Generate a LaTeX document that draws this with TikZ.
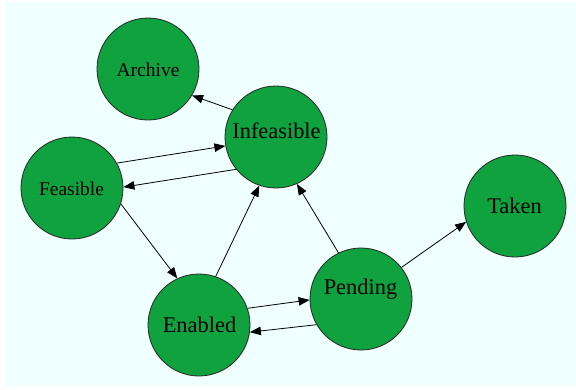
\documentclass[tikz,border=0pt]{standalone}
\usepackage{fontspec}
\setmainfont{Liberation Serif}
\newfontfamily\statefont{Liberation Serif}
\usetikzlibrary{arrows.meta}
\definecolor{bgc}{RGB}{240,255,255}
\definecolor{stategreen}{RGB}{16,162,63}
\tikzset{
  state/.style={circle, draw=black!85, line width=0.8pt, fill=stategreen, minimum size=102pt, inner sep=0pt},
  big/.style={anchor=base, inner sep=0pt, font=\statefont\fontsize{22.4}{24}\selectfont},
  small/.style={anchor=base, inner sep=0pt, font=\statefont\fontsize{19.5}{21}\selectfont},
  edge/.style={line width=0.8pt, -{Triangle[length=11pt,width=8.5pt]}}
}
\begin{document}
\begin{tikzpicture}[x=1pt,y=-1pt]
\useasboundingbox (0,0) rectangle (576,389);
\fill[bgc] (5,2) rectangle (576,386);
% states
\node[state] (A) at (148,69) {};
\node[state] (I) at (276,137) {};
\node[state] (F) at (72,188) {};
\node[state] (E) at (199,325) {};
\node[state] (P) at (361,299) {};
\node[state] (T) at (515,206) {};
% labels
\node[small] (At) at (148,76) {Archive};
\node[big] (It) at (276.5,138) {Infeasible};
\node[small] (Ft) at (71.5,195) {Feasible};
\node[big] (Et) at (199.5,332) {Enabled};
\node[big] (Pt) at (360.5,294) {Pending};
\node[big] (Tt) at (514.5,213) {Taken};
% transitions
\draw[edge] (I.148.5) -- (A.-31.9);
\draw[edge] (F.29.6) -- (I.190);
\draw[edge] (I.219) -- (F.1.1);
\draw[edge] (F.-18.4) -- (E.115.7);
\draw[edge] (E.71.6) -- (I.251.9);
\draw[edge] (E.19.4) -- (P.181);
\draw[edge] (P.210) -- (E.-8.6);
\draw[edge] (P.116.6) -- (I.-66);
\draw[edge] (P.38.2) -- (T.198.1);
\end{tikzpicture}
\end{document}
